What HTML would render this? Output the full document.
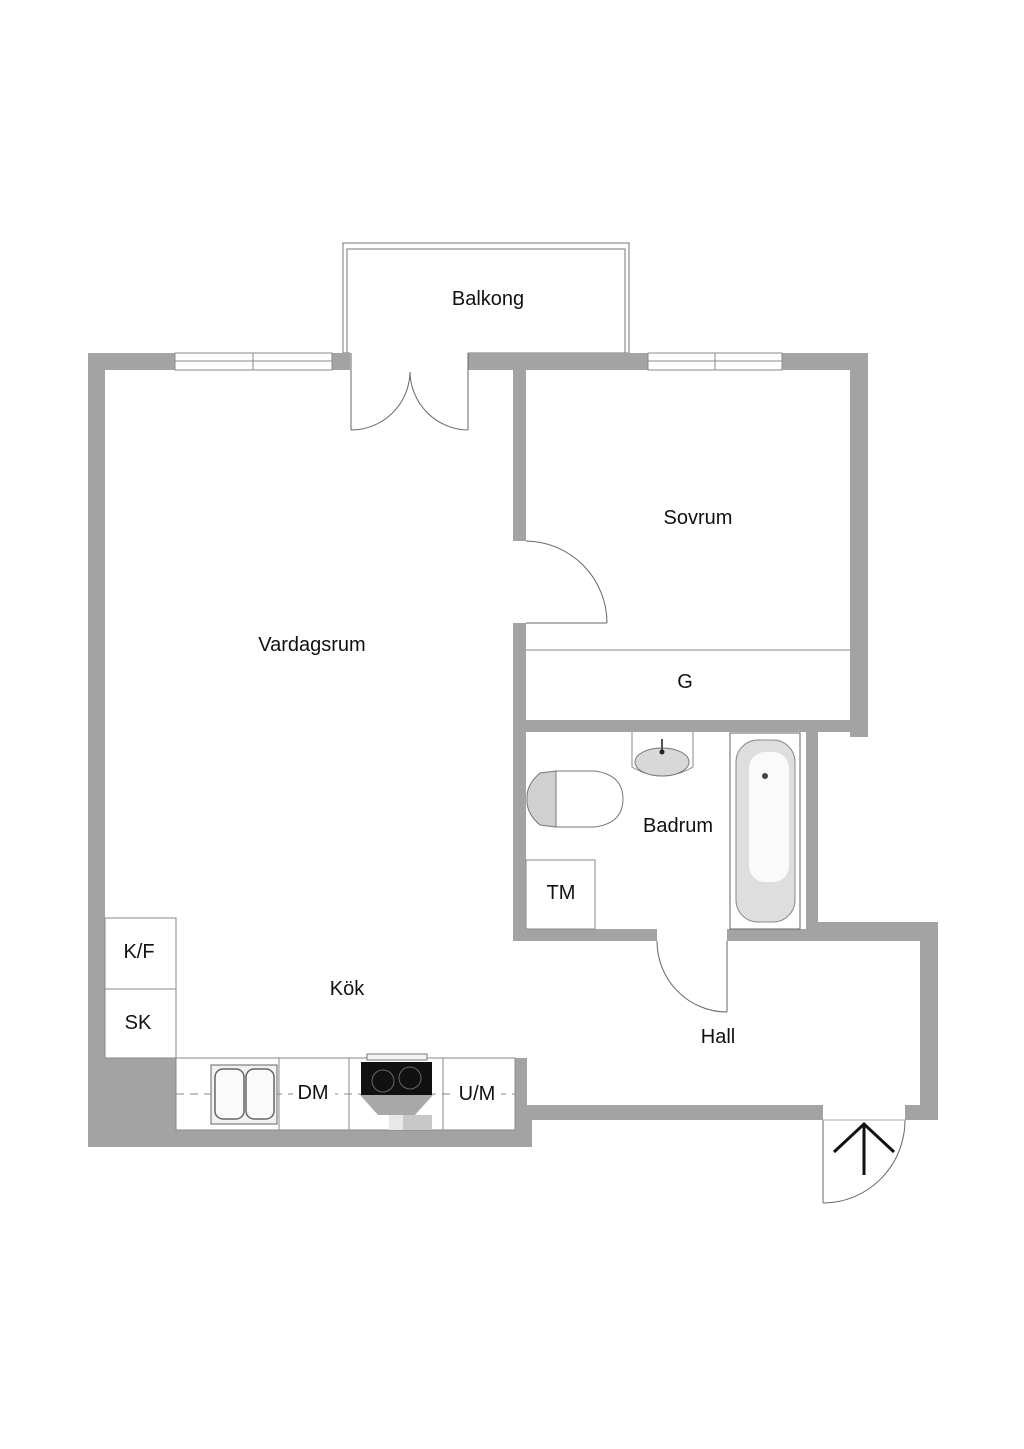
<!DOCTYPE html>
<html><head><meta charset="utf-8"><style>
html,body{margin:0;padding:0;background:#fff;}
svg{display:block;}
text{font-family:"Liberation Sans",sans-serif;font-size:20px;fill:#111;text-anchor:middle;}
</style></head><body>
<svg width="1024" height="1449" viewBox="0 0 1024 1449" xmlns="http://www.w3.org/2000/svg">
<rect x="343" y="243" width="286" height="110" fill="#fff" stroke="#777" stroke-width="1"/>
<polyline points="347,353 347,249 625,249 625,353" fill="none" stroke="#777" stroke-width="1"/>
<g fill="#a3a3a3">
<rect x="88" y="353" width="780" height="17"/>
<rect x="88" y="353" width="17" height="794"/>
<rect x="88" y="1130" width="442" height="17"/>
<rect x="88" y="1058" width="88" height="89"/>
<rect x="850" y="353" width="18" height="384"/>
<rect x="513" y="720" width="355" height="12"/>
<rect x="806" y="720" width="12" height="221"/>
<rect x="513" y="370" width="13" height="171"/>
<rect x="513" y="623" width="13" height="318"/>
<rect x="513" y="929" width="144" height="12"/>
<rect x="727" y="929" width="211" height="12"/>
<rect x="818" y="922" width="120" height="18"/>
<rect x="920" y="922" width="18" height="198"/>
<rect x="515" y="1105" width="308" height="15"/>
<rect x="905" y="1105" width="33" height="15"/>
<rect x="515" y="1058" width="12" height="62"/>
<rect x="515" y="1105" width="17" height="42"/>
</g>
<g fill="#fff" stroke="#888" stroke-width="1">
<rect x="175" y="353" width="157" height="17"/>
<rect x="648" y="353" width="134" height="17"/>
</g>
<g stroke="#888" stroke-width="1">
<line x1="175" y1="361" x2="332" y2="361"/><line x1="253" y1="353" x2="253" y2="370"/>
<line x1="648" y1="361" x2="782" y2="361"/><line x1="715" y1="353" x2="715" y2="370"/>
</g>
<rect x="350" y="352" width="118" height="19" fill="#fff"/>
<g fill="none" stroke="#666" stroke-width="1">
<line x1="351" y1="353" x2="351" y2="430"/><line x1="468" y1="353" x2="468" y2="430"/>
<path d="M351,430 A59,59 0 0 0 410,372"/><path d="M468,430 A59,59 0 0 1 410,372"/>
<path d="M526,541 A82,82 0 0 1 607,623"/><line x1="526" y1="623" x2="607" y2="623"/>
<line x1="526" y1="650" x2="850" y2="650" stroke="#888"/>
<line x1="727" y1="941" x2="727" y2="1012"/><path d="M657,941 A70,71 0 0 0 727,1012"/>
<line x1="823" y1="1120" x2="823" y2="1203"/><path d="M905,1120 A82,83 0 0 1 823,1203"/>
<line x1="823" y1="1120" x2="905" y2="1120" stroke="#aaa"/>
</g>
<g stroke="#111" stroke-width="3" fill="none">
<line x1="864" y1="1175" x2="864" y2="1124"/><polyline points="834,1152 864,1124 894,1152"/>
</g>
<g fill="#fff" stroke="#888" stroke-width="1">
<rect x="105" y="918" width="71" height="71"/>
<rect x="105" y="989" width="71" height="69"/>
<rect x="176" y="1058" width="339" height="72"/>
</g>
<g stroke="#888" stroke-width="1">
<line x1="279" y1="1058" x2="279" y2="1130"/><line x1="349" y1="1058" x2="349" y2="1130"/><line x1="443" y1="1058" x2="443" y2="1130"/>
<line x1="176" y1="1094" x2="515" y2="1094" stroke-dasharray="8,6"/>
</g>
<rect x="293" y="1082" width="42" height="22" fill="#fff"/>
<rect x="453" y="1082" width="48" height="22" fill="#fff"/>
<rect x="211" y="1065" width="66" height="59" fill="#f2f2f2" stroke="#666"/>
<rect x="215" y="1069" width="29" height="50" rx="8" fill="#fafafa" stroke="#666" stroke-width="1.5"/>
<rect x="246" y="1069" width="28" height="50" rx="8" fill="#fafafa" stroke="#666" stroke-width="1.5"/>
<rect x="367" y="1054" width="60" height="6" fill="#f4f4f4" stroke="#777"/>
<rect x="361" y="1062" width="71" height="33" fill="#111"/>
<circle cx="383" cy="1081" r="11" fill="none" stroke="#666"/>
<circle cx="410" cy="1078" r="11" fill="none" stroke="#666"/>
<polygon points="360,1095 433,1095 415,1115 378,1115" fill="#a8a8a8"/>
<rect x="389" y="1115" width="14" height="15" fill="#e8e8e8"/>
<rect x="403" y="1115" width="29" height="15" fill="#c8c8c8"/>
<rect x="526" y="860" width="69" height="69" fill="#fff" stroke="#888"/>
<path d="M632,732 L632,767 Q662,785 693,767 L693,732" fill="#fff" stroke="#888"/>
<ellipse cx="662" cy="762" rx="27" ry="14" fill="#d8d8d8" stroke="#777"/>
<line x1="662" y1="739" x2="662" y2="752" stroke="#555" stroke-width="2"/><circle cx="662" cy="752" r="2.5" fill="#222"/>
<path d="M556,771 L595,771 Q623,775 623,799 Q623,823 595,827 L556,827 Z" fill="#fff" stroke="#777"/>
<path d="M556,771 L540,773 Q526,785 527,799 Q526,813 540,825 L556,827 Z" fill="#d0d0d0" stroke="#777"/>
<rect x="730" y="733" width="70" height="196" fill="#fff" stroke="#666"/>
<rect x="736" y="740" width="59" height="182" rx="22" fill="#dedede" stroke="#888"/>
<rect x="749" y="752" width="40" height="130" rx="16" fill="#fafafa"/>
<circle cx="765" cy="776" r="3" fill="#444"/>
<text x="488" y="305">Balkong</text>
<text x="698" y="524">Sovrum</text>
<text x="312" y="651">Vardagsrum</text>
<text x="685" y="688">G</text>
<text x="678" y="832">Badrum</text>
<text x="561" y="899">TM</text>
<text x="139" y="958">K/F</text>
<text x="138" y="1029">SK</text>
<text x="347" y="995">Kök</text>
<text x="313" y="1099">DM</text>
<text x="477" y="1100">U/M</text>
<text x="718" y="1043">Hall</text>
</svg>
</body></html>
